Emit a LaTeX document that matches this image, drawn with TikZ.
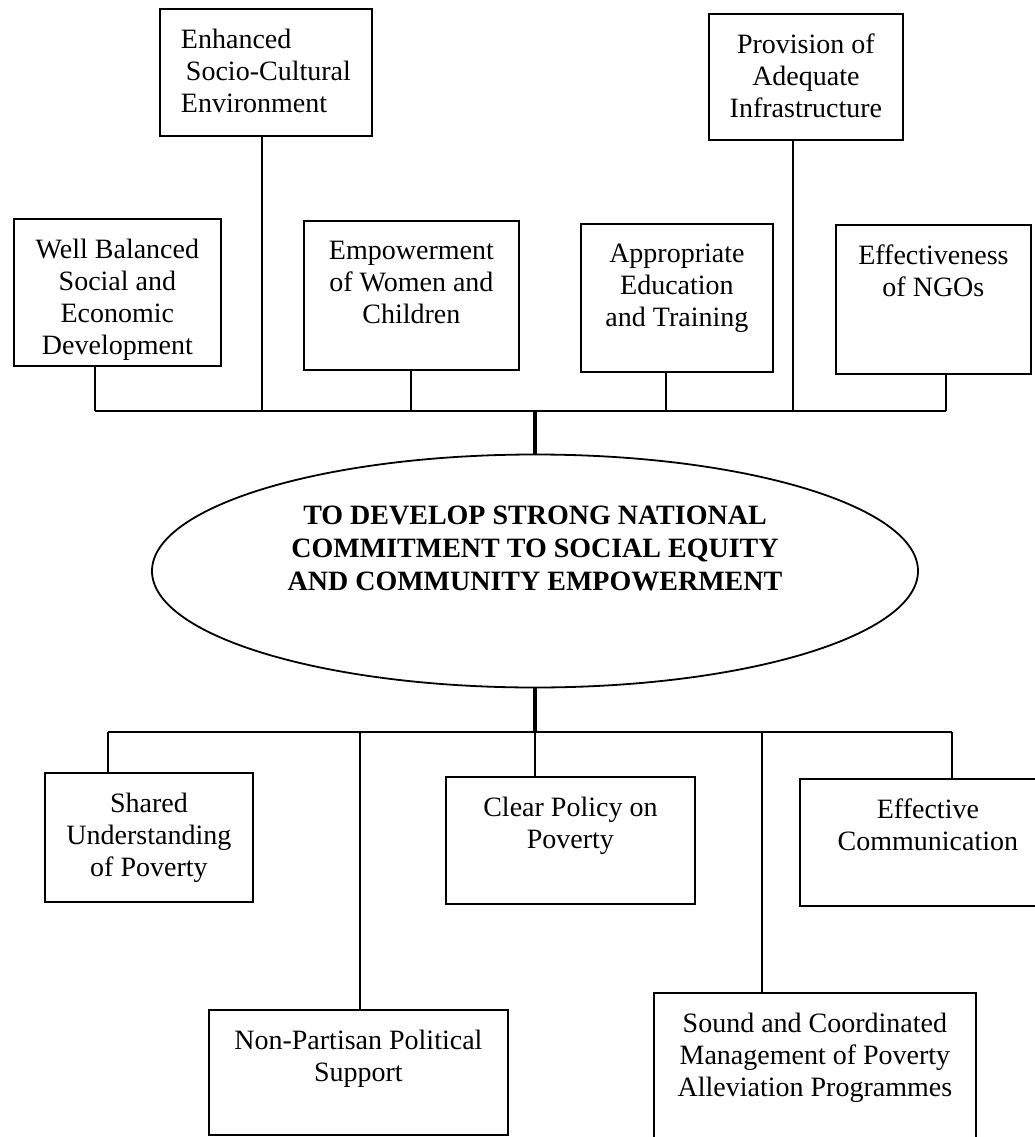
\documentclass[tikz,border=0pt]{standalone}
\usepackage{fontspec}
\setmainfont{Liberation Serif}
\usetikzlibrary{shapes.geometric}
\begin{document}
\begin{tikzpicture}[x=1pt,y=-1pt,
  box/.style={draw, line width=1.8pt, inner sep=0pt, anchor=north west},
  txt/.style={anchor=north, inner sep=0pt, align=center, font=\fontsize{28}{32}\selectfont},
  link/.style={line width=1.5pt},
  trunk/.style={line width=4.5pt}]
\useasboundingbox (0,0) rectangle (1035,1137);
\fill[white] (0,0) rectangle (1035,1137);
\clip (0,0) rectangle (1035,1137);

% ---------- top boxes ----------
\node[box, minimum width=212pt, minimum height=127pt] (esc) at (159,8) {};
\node[txt, align=left] (esct) at ([yshift=-21pt]esc.north) {Enhanced\\\hspace{5pt}Socio-Cultural\\Environment};

\node[box, minimum width=194pt, minimum height=126pt] (pai) at (708,13) {};
\node[txt] (pait) at ([yshift=-21pt]pai.north) {Provision of\\Adequate\\Infrastructure};

\node[box, minimum width=207pt, minimum height=147pt] (wbs) at (13,218) {};
\node[txt] (wbst) at ([yshift=-21pt]wbs.north) {Well Balanced\\Social and\\Economic\\Development};

\node[box, minimum width=215pt, minimum height=149pt] (ewc) at (303,220) {};
\node[txt] (ewct) at ([yshift=-21pt]ewc.north) {Empowerment\\of Women and\\Children};

\node[box, minimum width=192pt, minimum height=148pt] (aet) at (580,223) {};
\node[txt] (aett) at ([yshift=-21pt]aet.north) {Appropriate\\Education\\and Training};

\node[box, minimum width=195pt, minimum height=149pt] (eng) at (835,224) {};
\node[txt] (engt) at ([yshift=-21pt]eng.north) {Effectiveness\\of NGOs};

% ---------- central ellipse ----------
\node[draw, ellipse, line width=1.8pt, minimum width=766pt, minimum height=233pt, inner sep=0pt] (goal) at (535,571) {};
\node[inner sep=0pt, align=center, font=\bfseries\fontsize{28}{33}\selectfont] (goalt) at (535,548)
  {TO DEVELOP STRONG NATIONAL\\COMMITMENT TO SOCIAL EQUITY\\AND COMMUNITY EMPOWERMENT};

% ---------- bottom boxes ----------
\node[box, minimum width=208pt, minimum height=129pt] (sup) at (44,772) {};
\node[txt] (supt) at ([yshift=-21pt]sup.north) {Shared\\Understanding\\of Poverty};

\node[box, minimum width=249pt, minimum height=127pt] (cpp) at (445,776) {};
\node[txt] (cppt) at ([yshift=-21pt]cpp.north) {Clear Policy on\\Poverty};

\node[box, minimum width=256pt, minimum height=127pt] (eco) at (799,778) {};
\node[txt] (ecot) at ([yshift=-21pt]eco.north) {Effective\\Communication};

\node[box, minimum width=299pt, minimum height=125pt] (nps) at (208,1009) {};
\node[txt] (npst) at ([yshift=-21pt]nps.north) {Non-Partisan Political\\Support};

\node[box, minimum width=322pt, minimum height=170pt] (scm) at (653,992) {};
\node[txt] (scmt) at ([yshift=-21pt]scm.north) {Sound and Coordinated\\Management of Poverty\\Alleviation Programmes};

% ---------- top connectors ----------
\coordinate (tb1) at (95,411);
\coordinate (tb2) at (262,411);
\coordinate (tb3) at (411,411);
\coordinate (tbc) at (535,411);
\coordinate (tb4) at (666,411);
\coordinate (tb5) at (793,411);
\coordinate (tb6) at (946,411);
\draw[link] (tb1) -- (tb6);
\draw[link] (wbs.south -| tb1) -- (tb1);
\draw[link] (esc.south -| tb2) -- (tb2);
\draw[link] (ewc.south -| tb3) -- (tb3);
\draw[link] (aet.south -| tb4) -- (tb4);
\draw[link] (pai.south -| tb5) -- (tb5);
\draw[link] (eng.south -| tb6) -- (tb6);
\draw[trunk] (tbc) -- (goal.north);

% ---------- bottom connectors ----------
\coordinate (bb1) at (108,732);
\coordinate (bb2) at (360,732);
\coordinate (bbc) at (535,732);
\coordinate (bb4) at (762,732);
\coordinate (bb5) at (952,732);
\draw[trunk] (goal.south) -- (bbc);
\draw[link] (bb1) -- (bb5);
\draw[link] (bb1) -- (bb1 |- sup.north);
\draw[link] (bb2) -- (bb2 |- nps.north);
\draw[link] (bbc) -- (bbc |- cpp.north);
\draw[link] (bb4) -- (bb4 |- scm.north);
\draw[link] (bb5) -- (bb5 |- eco.north);
\end{tikzpicture}
\end{document}
